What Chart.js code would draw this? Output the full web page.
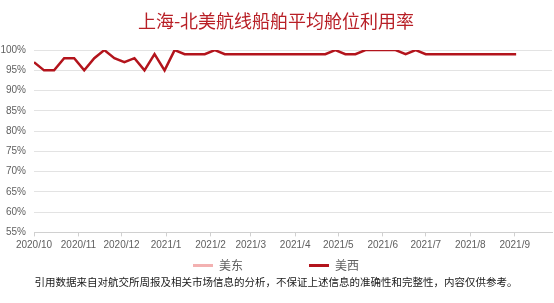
<!DOCTYPE html>
<html>
<head>
<meta charset="utf-8">
<script src="https://cdn.jsdelivr.net/npm/chart.js@4/dist/chart.umd.min.js"></script>
<style>
  html, body { margin: 0; padding: 0; background: #ffffff; }
  #wrap { width: 554px; height: 303px; }
</style>
</head>
<body>
<div id="wrap"><canvas id="c" width="554" height="303"></canvas></div>
<script>
// ---- data ----
const titleText = "上海-北美航线船舶平均舱位利用率";
const footnoteText = "引用数据来自对航交所周报及相关市场信息的分析，不保证上述信息的准确性和完整性，内容仅供参考。";
const seriesNames = ["美东", "美西"];

const weekDates = [
  "2020-10-01","2020-10-08","2020-10-15","2020-10-22","2020-10-29",
  "2020-11-05","2020-11-12","2020-11-19","2020-11-26",
  "2020-12-03","2020-12-10","2020-12-17","2020-12-24","2020-12-31",
  "2021-01-07","2021-01-14","2021-01-21","2021-01-28",
  "2021-02-04","2021-02-11","2021-02-18","2021-02-25",
  "2021-03-04","2021-03-11","2021-03-18","2021-03-25",
  "2021-04-01","2021-04-08","2021-04-15","2021-04-22","2021-04-29",
  "2021-05-06","2021-05-13","2021-05-20","2021-05-27",
  "2021-06-03","2021-06-10","2021-06-17","2021-06-24",
  "2021-07-01","2021-07-08","2021-07-15","2021-07-22","2021-07-29",
  "2021-08-05","2021-08-12","2021-08-19","2021-08-26",
  "2021-09-02"
];

const usEast = []; // no visible line in the reference (legend only)
const usWest = [
  97, 95, 95, 98, 98,
  95, 98, 100, 98,
  97, 98, 95, 99, 95,
  100, 99, 99, 99,
  100, 99, 99, 99,
  99, 99, 99, 99,
  99, 99, 99, 99, 100,
  99, 99, 100, 100,
  100, 100, 99, 100,
  99, 99, 99, 99, 99,
  99, 99, 99, 99,
  99
];

const monthStarts = ["2020-10-01","2020-11-01","2020-12-01","2021-01-01","2021-02-01","2021-03-01",
                     "2021-04-01","2021-05-01","2021-06-01","2021-07-01","2021-08-01","2021-09-01"];
const monthLabels = ["2020/10","2020/11","2020/12","2021/1","2021/2","2021/3",
                     "2021/4","2021/5","2021/6","2021/7","2021/8","2021/9"];
const yTicks = [55, 60, 65, 70, 75, 80, 85, 90, 95, 100];

// ---- helpers ----
const origin = Date.UTC(2020, 9, 1);
function dayOf(s) {
  const [y, m, d] = s.split("-").map(Number);
  return Math.round((Date.UTC(y, m - 1, d) - origin) / 86400000);
}
const monthDays = monthStarts.map(dayOf);
const westPoints = weekDates.map((d, i) => ({ x: dayOf(d), y: usWest[i] }));
const eastPoints = usEast.map((v, i) => ({ x: dayOf(weekDates[i]), y: v }));

const cjk = "'Noto Sans CJK SC', 'Noto Sans', sans-serif";
const tickGray = "#5f5f5f";

new Chart(document.getElementById("c"), {
  type: "line",
  data: {
    datasets: [
      { label: seriesNames[0], data: eastPoints, borderColor: "#f3b1b1", backgroundColor: "#f3b1b1",
        borderWidth: 2.5, pointRadius: 0, tension: 0 },
      { label: seriesNames[1], data: westPoints, borderColor: "#b3141c", backgroundColor: "#b3141c",
        borderWidth: 2.5, pointRadius: 0, tension: 0 }
    ]
  },
  options: {
    responsive: false,
    animation: false,
    devicePixelRatio: 1,
    layout: { padding: { left: 0, right: 2, top: 0, bottom: 0 } },
    plugins: {
      title: {
        display: true, text: titleText, color: "#b81f26",
        font: { family: cjk, size: 18, weight: "normal" },
        padding: { top: 10, bottom: 18.5 }
      },
      subtitle: {
        display: true, text: footnoteText, position: "bottom", color: "#1a1a1a",
        font: { family: cjk, size: 10.5, weight: "normal" },
        padding: { top: -6, bottom: 15 }
      },
      legend: {
        position: "bottom",
        labels: {
          boxWidth: 20, boxHeight: 3, padding: 6, color: tickGray,
          font: { family: cjk, size: 12 },
          generateLabels(chart) {
            const items = Chart.defaults.plugins.legend.labels.generateLabels(chart);
            items.forEach((it, i) => {
              it.lineWidth = 0;
              if (i === 0) it.text = it.text + "\u2003\u2003\u2003\u2003\u2003";
            });
            return items;
          }
        }
      },
      tooltip: { enabled: false }
    },
    scales: {
      x: {
        type: "linear", min: 0, max: 361,
        afterBuildTicks(scale) { scale.ticks = monthDays.map(v => ({ value: v })); },
        ticks: {
          autoSkip: false, maxRotation: 0, padding: 2.5, color: tickGray,
          font: { family: "'Liberation Sans', 'Noto Sans', sans-serif", size: 10 },
          callback(value) { const i = monthDays.indexOf(value); return i >= 0 ? monthLabels[i] : ""; }
        },
        grid: { display: true, drawOnChartArea: false, drawTicks: true, tickLength: 4, color: "#d0d0d0" },
        border: { display: true, color: "#d0d0d0", width: 1 }
      },
      y: {
        min: 55, max: 100,
        afterBuildTicks(scale) { scale.ticks = yTicks.map(v => ({ value: v })); },
        afterFit(scale) { scale.width = 34; },
        ticks: {
          padding: 8, color: tickGray,
          font: { family: "'Liberation Sans Narrow', 'Liberation Sans', sans-serif", size: 10 },
          callback(v) { return v + "%"; }
        },
        grid: { color: "#e3e3e3", drawTicks: false },
        border: { display: false }
      }
    }
  }
});
</script>
</body>
</html>
